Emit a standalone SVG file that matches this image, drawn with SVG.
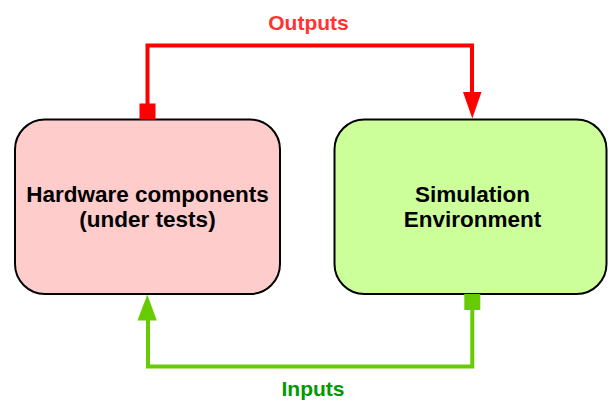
<svg xmlns="http://www.w3.org/2000/svg" width="608" height="401" viewBox="0 0 608 401">
<defs>
<style>
.box{stroke:#000;stroke-width:2}
.lbl{font-family:"Liberation Sans",Arial,sans-serif;font-weight:bold;font-size:21px;text-anchor:middle}
.big{font-size:22.5px}
.red{fill:none;stroke:#ff0000;stroke-width:4}
.grn{fill:none;stroke:#66cc00;stroke-width:4}
</style>
</defs>
<rect width="608" height="401" fill="#fff"/>
<g id="hardware">
<rect class="box" x="15" y="119.5" width="265" height="174.5" rx="30" ry="30" fill="#ffcccc"/>
<text class="lbl big" x="147.5" y="201.5">Hardware components</text>
<text class="lbl big" x="147.5" y="226.5">(under tests)</text>
</g>
<g id="simulation">
<rect class="box" x="334.5" y="119.5" width="272" height="174.5" rx="30" ry="30" fill="#ccff99"/>
<text class="lbl big" x="472.5" y="201.5">Simulation</text>
<text class="lbl big" x="472.5" y="226.5">Environment</text>
</g>
<g id="connectors">
<path class="red" d="M147.5 104 V45.5 H472 V92"/>
<rect x="139.5" y="103.5" width="16" height="16" fill="#ff0000"/>
<polygon points="463,92 481.5,92 472.3,118.5" fill="#ff0000"/>
<text class="lbl" x="308.5" y="30" fill="#ff3333">Outputs</text>
<path class="grn" d="M472.3 310 V366.5 H148 V320"/>
<rect x="464.3" y="294" width="16" height="16" fill="#66cc00"/>
<polygon points="137.5,320.5 156.8,320.5 147.3,294.5" fill="#66cc00"/>
<text class="lbl" x="313" y="396" fill="#009900">Inputs</text>
</g>
</svg>
